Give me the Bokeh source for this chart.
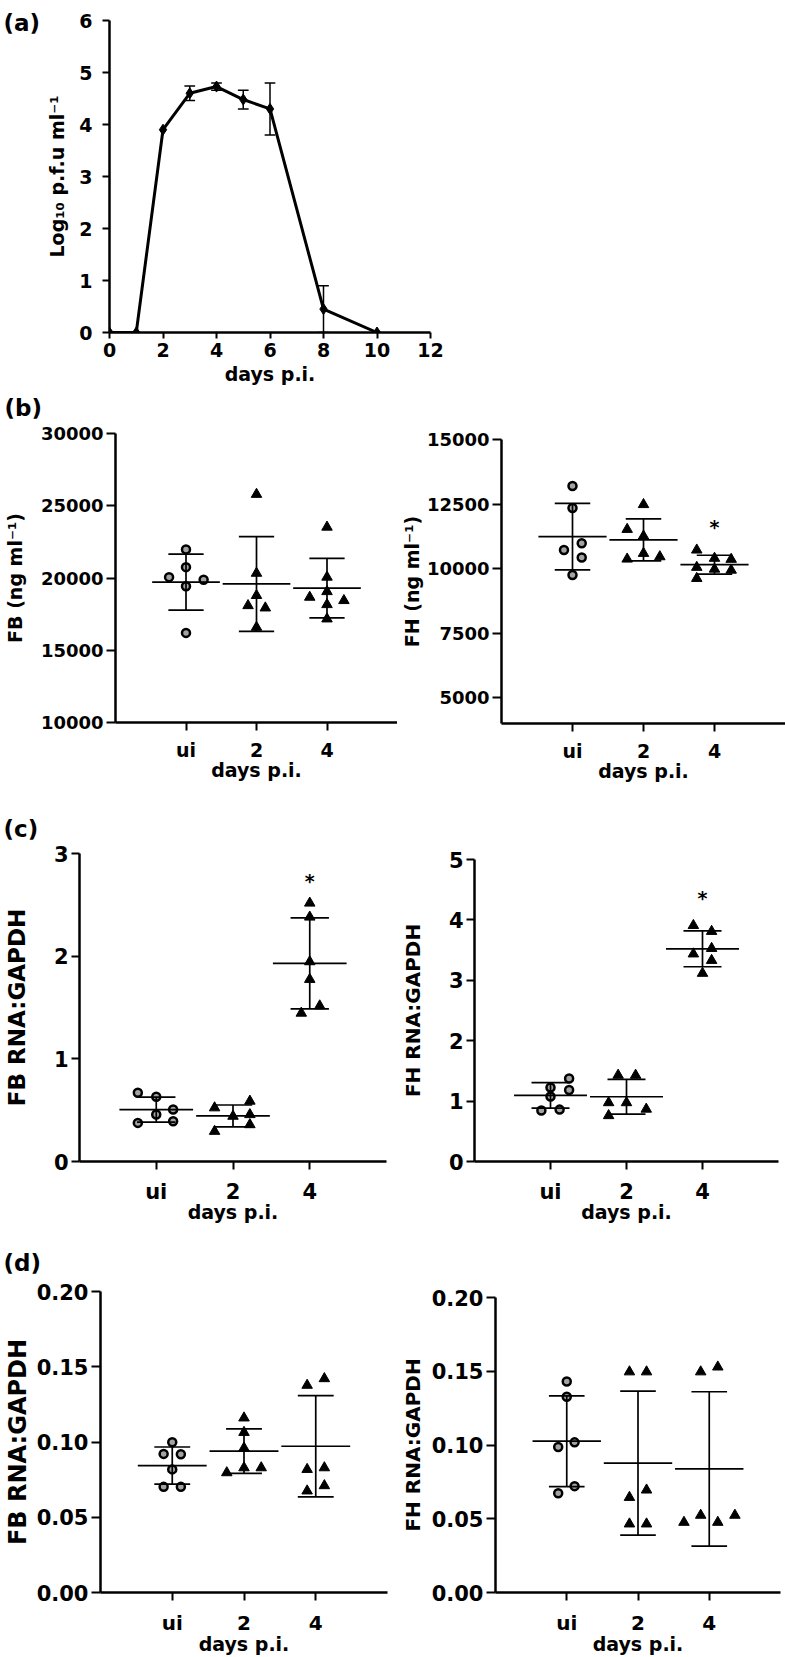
import numpy as np
from bokeh.plotting import figure
from bokeh.models import Range1d, FixedTicker, NumeralTickFormatter, Spacer
from bokeh.layouts import column, row
from bokeh.embed import file_html
from bokeh.resources import INLINE
from bokeh.core.properties import value

# ---------------- data ----------------
# (a) virus titre
days_a = [0, 1, 2, 3, 4, 5, 6, 8, 10]
log_pfu = [0.0, 0.0, 3.90, 4.60, 4.73, 4.48, 4.30, 0.45, 0.0]
log_pfu_sd = [0.0, 0.0, 0.0, 0.14, 0.07, 0.18, 0.50, 0.45, 0.0]
a_xticks = [0, 2, 4, 6, 8, 10, 12]
a_yticks = [0, 1, 2, 3, 4, 5, 6]

groups = ["ui", "2", "4"]

# (b) serum protein (ng/ml)
fb_prot_ui = [21980, 20750, 20060, 19880, 19430, 16200]
fb_prot_d2 = [25790, 20330, 18790, 18090, 17930, 16590]
fb_prot_d4 = [23520, 20060, 19060, 18670, 18440, 18160, 17170]
fh_prot_ui = [13200, 12350, 10980, 10720, 10430, 9750]
fh_prot_d2 = [12480, 11520, 11260, 10590, 10370, 10460]
fh_prot_d4 = [10720, 10400, 10360, 10050, 9980, 9940, 9620]
# (c) RNA:GAPDH
fb_rna_c_ui = [0.670, 0.630, 0.506, 0.457, 0.392, 0.376]
fb_rna_c_d2 = [0.588, 0.523, 0.457, 0.441, 0.359, 0.294]
fb_rna_c_d4 = [2.517, 2.381, 1.946, 1.774, 1.516, 1.445]
fh_rna_c_ui = [1.375, 1.185, 1.224, 1.076, 0.843, 0.859]
fh_rna_c_d2 = [1.429, 1.429, 0.974, 0.974, 0.867, 0.760]
fh_rna_c_d4 = [3.908, 3.810, 3.437, 3.528, 3.330, 3.116]
# (d) RNA:GAPDH
fb_rna_d_ui = [0.0998, 0.0921, 0.0919, 0.0818, 0.0702, 0.0702]
fb_rna_d_d2 = [0.1160, 0.1064, 0.0960, 0.0796, 0.0829, 0.0829]
fb_rna_d_d4 = [0.1377, 0.1421, 0.0818, 0.0829, 0.0675, 0.0710]
fh_rna_d_ui = [0.1430, 0.1327, 0.1018, 0.0987, 0.0721, 0.0673]
fh_rna_d_d2 = [0.1496, 0.1496, 0.0695, 0.0645, 0.0465, 0.0465]
fh_rna_d_d4 = [0.1496, 0.1529, 0.0476, 0.0524, 0.0476, 0.0524]

# horizontal spread of each dot inside its column (category units)
fb_prot_ui_dx = [0, 0, -0.24, 0.25, 0, 0]
fb_prot_d2_dx = [0, 0, 0, -0.12, 0.125, 0]
fb_prot_d4_dx = [0, 0, 0, -0.245, 0.24, 0, 0]
fh_prot_ui_dx = [0, 0, 0.13, -0.12, 0.13, 0]
fh_prot_d2_dx = [0, -0.23, 0, 0, -0.23, 0.23]
fh_prot_d4_dx = [-0.25, 0, 0.235, -0.25, 0, 0.235, -0.25]
fb_rna_c_ui_dx = [-0.24, 0, 0.22, 0, 0.22, -0.24]
fb_rna_c_d2_dx = [0.22, -0.24, 0.22, 0, 0.22, -0.24]
fb_rna_c_d4_dx = [0, 0, 0, 0, 0.13, -0.11]
fh_rna_c_ui_dx = [0.245, 0.245, 0, 0, -0.12, 0.12]
fh_rna_c_d2_dx = [-0.11, 0.12, -0.235, 0, 0.26, -0.235]
fh_rna_c_d4_dx = [-0.12, 0.12, -0.12, 0.12, 0.12, 0]
fb_rna_d_ui_dx = [0, -0.12, 0.12, 0, -0.12, 0.12]
fb_rna_d_d2_dx = [0, 0, 0, -0.24, 0, 0.24]
fb_rna_d_d4_dx = [-0.12, 0.12, -0.12, 0.12, -0.12, 0.12]
fh_rna_d_ui_dx = [0, 0, 0.11, -0.12, 0.11, -0.12]
fh_rna_d_d2_dx = [-0.12, 0.12, 0.12, -0.12, -0.12, 0.12]
fh_rna_d_d4_dx = [-0.12, 0.12, -0.355, -0.12, 0.12, 0.36]

# significance marks (value of the star, day-4 column)
star_fh_prot = 11760
star_fb_rna_c = 2.77
star_fh_rna_c = 4.43

panel_letters = ["(a)", "(b)", "(c)", "(d)"]

# ---------------- geometry (page px) ----------------
FONT = "DejaVu Sans"


def fs(v):
    return f"{v}px"


def make_fig(col, rw, frame, xr, yr):
    c0, c1 = col
    r0, r1 = rw
    fl, fr, ft, fb = frame
    p = figure(width=c1 - c0, height=r1 - r0,
               x_range=Range1d(*xr), y_range=Range1d(*yr),
               output_backend="svg", toolbar_location=None,
               min_border_left=fl - c0, min_border_right=c1 - fr,
               min_border_top=ft - r0, min_border_bottom=r1 - fb)
    p.outline_line_color = None
    p.xgrid.visible = False
    p.ygrid.visible = False
    p.background_fill_color = "white"
    p.border_fill_color = "white"
    return p


def letter_fig(w, h, items):
    p = figure(width=w, height=h, x_range=Range1d(0, w), y_range=Range1d(h, 0),
               output_backend="svg", toolbar_location=None, min_border=0,
               x_axis_location=None, y_axis_location=None)
    p.outline_line_color = None
    p.xgrid.visible = False
    p.ygrid.visible = False
    p.border_fill_color = "white"
    p.text(x=[it[1] for it in items], y=[it[2] for it in items], text=[it[0] for it in items],
           text_font=value(FONT), text_font_style="bold",
           text_font_size="23px", text_color="black", text_align="left",
           text_baseline="alphabetic")
    return p


def style_axes(p, xtick, ytick, xtitle_fs, ytitle_fs, xlab, ylab,
               x_tick_len, y_tick_len, x_lso, x_tso, y_lso, y_tso):
    for ax in (p.xaxis[0], p.yaxis[0]):
        ax.axis_line_width = 2.5
        ax.axis_line_color = "black"
        ax.major_tick_line_width = 2
        ax.major_tick_line_color = "black"
        ax.minor_tick_line_color = None
        ax.major_tick_in = 0
        ax.major_label_text_font = FONT
        ax.major_label_text_font_style = "bold"
        ax.major_label_text_color = "black"
        ax.axis_label_text_font = FONT
        ax.axis_label_text_font_style = "bold"
        ax.axis_label_text_color = "black"
    xa, ya = p.xaxis[0], p.yaxis[0]
    xa.major_label_text_font_size = fs(xtick)
    ya.major_label_text_font_size = fs(ytick)
    xa.axis_label_text_font_size = fs(xtitle_fs)
    ya.axis_label_text_font_size = fs(ytitle_fs)
    xa.axis_label = xlab
    ya.axis_label = ylab
    xa.major_tick_out = x_tick_len
    ya.major_tick_out = y_tick_len
    xa.major_label_standoff = x_lso
    xa.axis_label_standoff = x_tso
    ya.major_label_standoff = y_lso
    ya.axis_label_standoff = y_tso


def dot_panel(p, data, dxs, star=None):
    xc = np.arange(1, len(data) + 1)
    for i, (vals, dx) in enumerate(zip(data, dxs)):
        xs = [xc[i] + d for d in dx]
        if i == 0:
            p.scatter(xs, vals, marker="circle", size=8, fill_color="#a3a3a3",
                      line_color="black", line_width=2.5)
        else:
            p.scatter(xs, vals, marker="triangle", size=10.5, fill_color="black",
                      line_color="black", line_width=1)
    means = np.array([np.mean(v) for v in data])
    sds = np.array([np.std(v, ddof=1) for v in data])
    p.segment(x0=xc - 0.48, y0=means, x1=xc + 0.48, y1=means, line_width=1.7, line_color="black")
    p.segment(x0=xc, y0=means - sds, x1=xc, y1=means + sds, line_width=1.7, line_color="black")
    for sgn in (-1, 1):
        p.segment(x0=xc - 0.25, y0=means + sgn * sds, x1=xc + 0.25, y1=means + sgn * sds,
                  line_width=1.7, line_color="black")
    if star is not None:
        p.text(x=[3], y=[star], text=["*"], text_font=value(FONT), text_font_style="bold",
               text_font_size="19px", text_align="center", text_baseline="middle",
               y_offset=4, text_color="black")
    p.xaxis[0].ticker = FixedTicker(ticks=list(xc))
    p.xaxis[0].major_label_overrides = {int(k): g for k, g in zip(xc, groups)}


# ---------------- (a) ----------------
letters_ab = letter_fig(43, 420, [(panel_letters[0], 3, 22), (panel_letters[1], 4, 407)])
pa = make_fig((43, 470), (0, 387), (107, 430, 20, 333), (0, 12), (0, 6))
ya = np.array(log_pfu)
ea = np.array(log_pfu_sd)
xa_ = np.array(days_a, dtype=float)
m = ea > 0
pa.segment(x0=xa_[m], y0=ya[m] - ea[m], x1=xa_[m], y1=ya[m] + ea[m], line_width=1.5, line_color="black")
pa.segment(x0=xa_[m] - 0.2, y0=ya[m] + ea[m], x1=xa_[m] + 0.2, y1=ya[m] + ea[m], line_width=1.5, line_color="black")
pa.segment(x0=xa_[m] - 0.2, y0=ya[m] - ea[m], x1=xa_[m] + 0.2, y1=ya[m] - ea[m], line_width=1.5, line_color="black")
pa.line(days_a, log_pfu, line_width=3, line_color="black")
pa.scatter(days_a, log_pfu, marker="diamond", size=11, color="black")
style_axes(pa, 19, 19, 19, 19, "days p.i.", "Log\u2081\u2080 p.f.u ml\u207b\u00b9",
           6, 7, 4, 3, 10, 8)
pa.xaxis[0].ticker = FixedTicker(ticks=a_xticks)
pa.yaxis[0].ticker = FixedTicker(ticks=a_yticks)

# ---------------- (b) ----------------
pb1 = make_fig((0, 397), (420, 785), (108, 397, 433, 722), (0, 4), (10000, 30000))
dot_panel(pb1, [fb_prot_ui, fb_prot_d2, fb_prot_d4], [fb_prot_ui_dx, fb_prot_d2_dx, fb_prot_d4_dx])
style_axes(pb1, 19, 18, 19, 19, "days p.i.", "FB (ng ml\u207b\u00b9)", 8, 9, 8, -5, 3, 12)
pb1.yaxis[0].ticker = FixedTicker(ticks=[10000, 15000, 20000, 25000, 30000])
pb1.yaxis[0].formatter = NumeralTickFormatter(format="0")

pb2 = make_fig((397, 785), (420, 800), (499, 785, 439, 723), (0, 4), (4000, 15000))
dot_panel(pb2, [fh_prot_ui, fh_prot_d2, fh_prot_d4], [fh_prot_ui_dx, fh_prot_d2_dx, fh_prot_d4_dx],
          star=star_fh_prot)
style_axes(pb2, 19, 18, 19, 19, "days p.i.", "FH (ng ml\u207b\u00b9)", 8, 9, 8, -5, 3, 1)
pb2.yaxis[0].ticker = FixedTicker(ticks=[5000, 7500, 10000, 12500, 15000])
pb2.yaxis[0].formatter = NumeralTickFormatter(format="0")

# ---------------- (c) ----------------
letter_c = letter_fig(397, 55, [(panel_letters[2], 3, 43)])
pc1 = make_fig((0, 397), (840, 1225), (73, 386, 853, 1163), (0, 4), (0, 3))
dot_panel(pc1, [fb_rna_c_ui, fb_rna_c_d2, fb_rna_c_d4], [fb_rna_c_ui_dx, fb_rna_c_d2_dx, fb_rna_c_d4_dx],
          star=star_fb_rna_c)
style_axes(pc1, 21, 21, 19, 23, "days p.i.", "FB RNA:GAPDH", 8, 8, 10, -6, 3, 21)
pc1.yaxis[0].ticker = FixedTicker(ticks=[0, 1, 2, 3])

pc2 = make_fig((397, 785), (800, 1225), (466, 778, 859, 1171), (0, 4), (0, 5))
dot_panel(pc2, [fh_rna_c_ui, fh_rna_c_d2, fh_rna_c_d4], [fh_rna_c_ui_dx, fh_rna_c_d2_dx, fh_rna_c_d4_dx],
          star=star_fh_rna_c)
style_axes(pc2, 21, 21, 19, 20, "days p.i.", "FH RNA:GAPDH", 8, 8, 10, -6, 3, 21)
pc2.yaxis[0].ticker = FixedTicker(ticks=[0, 1, 2, 3, 4, 5])

# ---------------- (d) ----------------
letter_d = letter_fig(397, 51, [(panel_letters[3], 3, 37)])
pd1 = make_fig((0, 397), (1276, 1657), (83, 387, 1291, 1594), (0, 4), (0, 0.2))
dot_panel(pd1, [fb_rna_d_ui, fb_rna_d_d2, fb_rna_d_d4], [fb_rna_d_ui_dx, fb_rna_d_d2_dx, fb_rna_d_d4_dx])
style_axes(pd1, 20, 21, 19, 24, "days p.i.", "FB RNA:GAPDH", 8, 9, 10, -5, 3, 2)
pd1.yaxis[0].ticker = FixedTicker(ticks=[0, 0.05, 0.1, 0.15, 0.2])
pd1.yaxis[0].formatter = NumeralTickFormatter(format="0.00")

pd2 = make_fig((397, 785), (1225, 1657), (476, 780, 1297, 1601), (0, 4), (0, 0.2))
dot_panel(pd2, [fh_rna_d_ui, fh_rna_d_d2, fh_rna_d_d4], [fh_rna_d_ui_dx, fh_rna_d_d2_dx, fh_rna_d_d4_dx])
style_axes(pd2, 20, 21, 19, 20, "days p.i.", "FH RNA:GAPDH", 8, 9, 10, -5, 3, 4)
pd2.yaxis[0].ticker = FixedTicker(ticks=[0, 0.05, 0.1, 0.15, 0.2])
pd2.yaxis[0].formatter = NumeralTickFormatter(format="0.00")


def solo(p):
    # each plot in its own container, so frames are not aligned with siblings
    return row(p, spacing=0)


top = row(letters_ab, column(solo(pa), Spacer(width=427, height=33), spacing=0), spacing=0)
left_col = column(solo(pb1), solo(letter_c), solo(pc1), solo(letter_d), solo(pd1), spacing=0)
right_col = column(solo(pb2), solo(pc2), solo(pd2), spacing=0)
layout = column(top, row(left_col, right_col, spacing=0), spacing=0)

open("out.html", "w").write(file_html(layout, INLINE))
